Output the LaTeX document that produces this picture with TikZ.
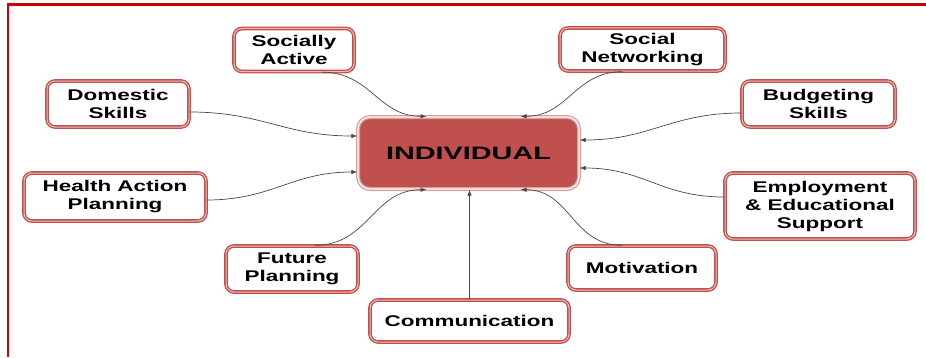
\documentclass[tikz,border=0pt]{standalone}
\usepackage{fontspec}
\setmainfont{Liberation Sans}[FakeStretch=1.45]
\newfontfamily\indfont{Liberation Sans}[FakeStretch=1.6]
\usetikzlibrary{calc,arrows.meta}
\definecolor{boxred}{RGB}{192,80,77}
\definecolor{boxpink}{RGB}{236,190,188}
\definecolor{framered}{RGB}{208,0,0}
\definecolor{conngray}{RGB}{70,70,70}
\tikzset{
  item/.style={draw=boxred, double=boxpink, double distance=1.0pt, line width=1.35pt,
    rounded corners=8pt, fill=white, align=center, inner sep=0pt,
    font=\fontsize{15.5}{18}\selectfont\bfseries},
  center/.style={draw=boxred!55, double=white, double distance=1.2pt, line width=1.4pt,
    rounded corners=12pt, fill=boxred, inner sep=0pt,
    font=\indfont\fontsize{18}{20}\selectfont\bfseries},
  conn/.style={draw=conngray, line width=0.7pt, -{Latex[length=6pt,width=4.5pt]}, looseness=1.1}
}
\begin{document}
\begin{tikzpicture}[x=1pt,y=1pt]
\useasboundingbox (0,0) rectangle (926,357);
% frame
\draw[framered, line width=2.6pt] (7,352.5) -- (926,352.5);
\draw[framered, line width=2.6pt] (8,353.8) -- (8,0);
% nodes
\node[center, minimum width=221pt, minimum height=72pt] (IND) at (468.5,204) {INDIVIDUAL};
\node[item, minimum width=120pt, minimum height=43pt] (SA) at (294,307) {Socially\\Active};
\node[item, minimum width=165pt, minimum height=43pt] (SN) at (642.5,307.5) {Social\\Networking};
\node[item, minimum width=142pt, minimum height=46pt] (DS) at (118,253) {Domestic\\Skills};
\node[item, minimum width=153pt, minimum height=46pt] (BS) at (818.5,253) {Budgeting\\Skills};
\node[item, minimum width=182pt, minimum height=48pt] (HAP) at (115,160) {Health Action\\Planning};
\node[item, minimum width=190pt, minimum height=66pt] (EES) at (820,151) {Employment\\\& Educational\\Support};
\node[item, minimum width=132pt, minimum height=46pt] (FP) at (292,88) {Future\\Planning};
\node[item, minimum width=148pt, minimum height=44pt] (MO) at (642,89) {Motivation};
\node[item, minimum width=199pt, minimum height=42pt] (CO) at (469.5,36) {Communication};
% connectors
\draw[conn] ($(SA.south)+(28,0)$) to[out=0,in=180] ($(IND.north)+(-42,0)$);
\draw[conn] ($(SN.south)+(-20,0)$) to[out=180,in=0] ($(IND.north)+(52,0)$);
\draw[conn] ($(DS.east)+(0,-8)$) to[out=0,in=180] ($(IND.west)+(0,17)$);
\draw[conn] ($(HAP.east)+(0,-3)$) to[out=0,in=180] ($(IND.west)+(0,-19)$);
\draw[conn] ($(BS.west)+(0,-9)$) to[out=180,in=0] ($(IND.east)+(0,13)$);
\draw[conn] ($(EES.west)+(0,9)$) to[out=180,in=0] ($(IND.east)+(0,-15)$);
\draw[conn] ($(FP.north)+(23,0)$) to[out=0,in=180] ($(IND.south)+(-42,0)$);
\draw[conn] ($(MO.north)+(-20,0)$) to[out=180,in=0] ($(IND.south)+(52,0)$);
\draw[conn] (CO.north) -- (CO.north |- IND.south);
\end{tikzpicture}
\end{document}
